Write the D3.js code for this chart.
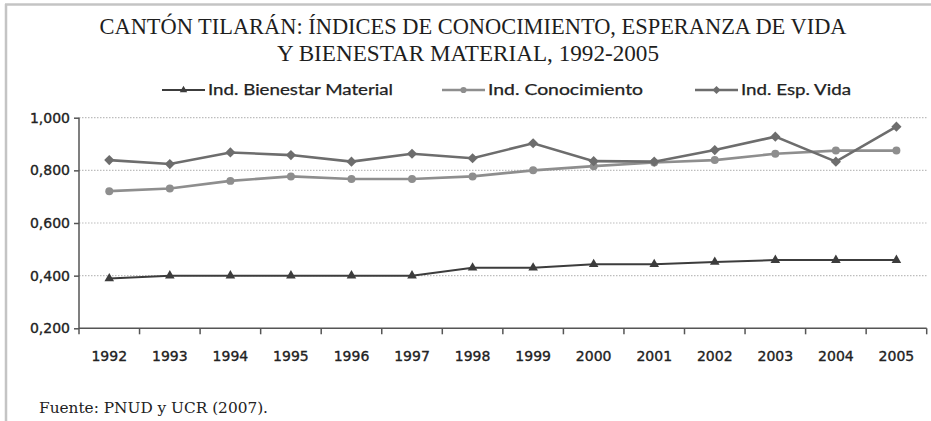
<!DOCTYPE html>
<html><head><meta charset="utf-8">
<script src="https://cdn.jsdelivr.net/npm/d3@7"></script>
<style>html,body{margin:0;padding:0;background:#fff;}svg{display:block;}</style>
</head><body>
<svg id="c" width="931" height="421"></svg>
<script>
const years = ["1992","1993","1994","1995","1996","1997","1998","1999","2000","2001","2002","2003","2004","2005"];
const bienestar = [0.389,0.400,0.400,0.400,0.400,0.400,0.430,0.430,0.443,0.443,0.452,0.459,0.459,0.459];
const conocimiento = [0.721,0.731,0.760,0.777,0.767,0.767,0.777,0.800,0.816,0.830,0.839,0.863,0.875,0.875];
const espVida = [0.839,0.824,0.868,0.858,0.833,0.863,0.846,0.903,0.835,0.833,0.877,0.928,0.833,0.966];
const yTicks = [0.2,0.4,0.6,0.8,1.0];
const seriesNames = ["Ind. Bienestar Material","Ind. Conocimiento","Ind. Esp. Vida"];
const titleLines = ["CANTÓN TILARÁN: ÍNDICES DE CONOCIMIENTO, ESPERANZA DE VIDA","Y BIENESTAR MATERIAL, 1992-2005"];
const source = "Fuente: PNUD y UCR (2007).";

const svg = d3.select("#c");
const L = 79, R = 926.7, T = 117.7, B = 328.3;

// frame
svg.append("line").attr("x1",5).attr("x2",931).attr("y1",4.5).attr("y2",4.5).attr("stroke","#c4c4c4").attr("stroke-width",2.5);
svg.append("line").attr("x1",6).attr("x2",6).attr("y1",4).attr("y2",421).attr("stroke","#c4c4c4").attr("stroke-width",2.5);

const x = d3.scaleBand().domain(years).range([L,R]);
const y = d3.scaleLinear().domain([0.2,1.0]).range([B,T]);

// title
const tw = [747, 382];
const tc = [473, 468];
titleLines.forEach((t,i)=>{
  svg.append("text").attr("x",tc[i]).attr("y",34+i*27).attr("text-anchor","middle")
    .attr("font-family","Liberation Serif, DejaVu Serif, serif").attr("font-size",24).attr("fill","#1e1e1e")
    .attr("textLength",tw[i]).attr("lengthAdjust","spacingAndGlyphs").text(t);
});

// grid
svg.append("g").selectAll("line").data(yTicks.filter(d=>d>0.2)).join("line")
  .attr("x1",L).attr("x2",R).attr("y1",d=>y(d)).attr("y2",d=>y(d))
  .attr("stroke","#bdbdbd").attr("stroke-width",1.2).attr("stroke-dasharray","1.5,1.5");

// axes
const fmt = d => d3.format(".3f")(d).replace(".",",");
const yAxis = svg.append("g").attr("transform",`translate(${L},0)`)
  .call(d3.axisLeft(y).tickValues(yTicks).tickFormat(fmt).tickSize(5).tickPadding(4));
const xAxis = svg.append("g").attr("transform",`translate(0,${B})`)
  .call(d3.axisBottom(x).tickSize(0).tickPadding(23));
// band boundary ticks
const bounds = years.map(d=>x(d)).concat([R]);
svg.append("g").selectAll("line").data(bounds).join("line")
  .attr("x1",d=>d).attr("x2",d=>d)
  .attr("y1",B).attr("y2",B+6).attr("stroke","#555").attr("stroke-width",1.5);
[yAxis,xAxis].forEach(a=>{
  a.select(".domain").attr("stroke","#555").attr("stroke-width",1.5);
  a.selectAll(".tick line").attr("stroke","#555").attr("stroke-width",1.5);
  a.selectAll("text").attr("font-family","DejaVu Sans, sans-serif").attr("font-size",14)
    .attr("fill","#222").attr("stroke","#222").attr("stroke-width",0.35);
});
yAxis.select(".domain").attr("d",`M0,${B}V${T}`);
xAxis.select(".domain").attr("d",`M${L},0H${R}`);

const cx = d => x(d) + x.bandwidth()/2;
const styles = [
  {data:bienestar, color:"#3c3c3c", w:2, sym:d3.symbolTriangle, size:40, rot:0},
  {data:conocimiento, color:"#8e8e8e", w:2.6, sym:d3.symbolCircle, size:50, rot:0},
  {data:espVida, color:"#6d6d6d", w:2.6, sym:d3.symbolSquare, size:52, rot:45}
];
const line = d3.line().x((d,i)=>cx(years[i])).y(d=>y(d));
styles.forEach(s=>{
  svg.append("path").attr("d",line(s.data)).attr("fill","none").attr("stroke",s.color).attr("stroke-width",s.w);
  svg.append("g").selectAll("path").data(s.data).join("path")
    .attr("transform",(d,i)=>`translate(${cx(years[i])},${y(d)}) rotate(${s.rot})`)
    .attr("d",d3.symbol().type(s.sym).size(s.size)).attr("fill",s.color);
});

// legend
const legX = [162, 442, 695];
const legW = [185, 155, 110];
seriesNames.forEach((n,i)=>{
  const s = styles[i];
  const g = svg.append("g");
  g.append("line").attr("x1",legX[i]).attr("x2",legX[i]+43).attr("y1",90).attr("y2",90).attr("stroke",s.color).attr("stroke-width",s.w);
  g.append("path").attr("transform",`translate(${legX[i]+21.5},90) rotate(${s.rot})`).attr("d",d3.symbol().type(s.sym).size(s.size*0.6)).attr("fill",s.color);
  g.append("text").attr("x",legX[i]+46).attr("y",95).attr("font-family","Lato, Open Sans, sans-serif").attr("font-size",15)
    .attr("fill","#222").attr("stroke","#222").attr("stroke-width",0.25)
    .attr("textLength",legW[i]).attr("lengthAdjust","spacingAndGlyphs").text(n);
});

// source
svg.append("text").attr("x",39).attr("y",413).attr("font-family","DejaVu Serif, serif").attr("font-size",15)
  .attr("fill","#222").attr("textLength",229).attr("lengthAdjust","spacingAndGlyphs").text(source);
</script>
</body></html>
